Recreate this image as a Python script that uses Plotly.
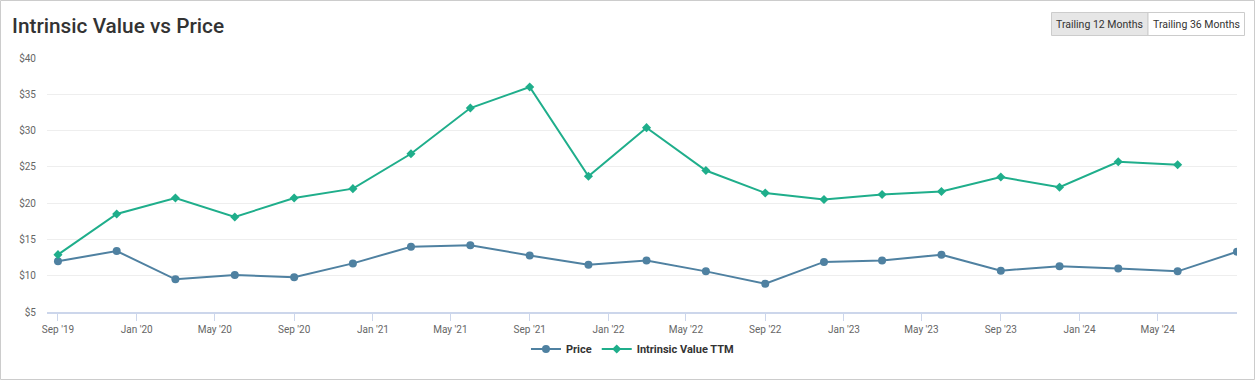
import plotly.graph_objects as go

dates = ["2019-09-01", "2019-12-01", "2020-03-01", "2020-06-01", "2020-09-01", "2020-12-01",
         "2021-03-01", "2021-06-01", "2021-09-01", "2021-12-01", "2022-03-01", "2022-06-01",
         "2022-09-01", "2022-12-01", "2023-03-01", "2023-06-01", "2023-09-01", "2023-12-01",
         "2024-03-01", "2024-06-01", "2024-09-01"]
price = [12.0, 13.4, 9.5, 10.1, 9.8, 11.7, 14.0, 14.2, 12.8, 11.5, 12.1, 10.6,
         8.9, 11.9, 12.1, 12.9, 10.7, 11.3, 11.0, 10.6, 13.3]
intrinsic = [12.9, 18.5, 20.7, 18.1, 20.7, 22.0, 26.8, 33.1, 36.0, 23.7, 30.4, 24.5,
             21.4, 20.5, 21.2, 21.6, 23.6, 22.2, 25.7, 25.3, None]

tick_dates = ["2019-09-01", "2020-01-01", "2020-05-01", "2020-09-01", "2021-01-01", "2021-05-01",
              "2021-09-01", "2022-01-01", "2022-05-01", "2022-09-01", "2023-01-01", "2023-05-01",
              "2023-09-01", "2024-01-01", "2024-05-01"]
tick_labels = ["Sep '19", "Jan '20", "May '20", "Sep '20", "Jan '21", "May '21",
               "Sep '21", "Jan '22", "May '22", "Sep '22", "Jan '23", "May '23",
               "Sep '23", "Jan '24", "May '24"]
y_ticks = [5, 10, 15, 20, 25, 30, 35, 40]
y_labels = ["$" + str(v) for v in y_ticks]

W, H = 1258, 382
ML, MR, MT, MB = 47, 21, 58, 70
PW, PH = W - ML - MR, H - MT - MB

def px(x):
    return (x - ML) / PW

def py(y):
    return (H - MB - y) / PH

FONT = "Roboto, Arial, sans-serif"
BLUE = "#4f81a1"
GREEN = "#1fae8b"

fig = go.Figure()
fig.add_trace(go.Scatter(x=dates, y=price, name="Price", mode="lines+markers",
                         line=dict(color=BLUE, width=2),
                         marker=dict(symbol="circle", size=8, color=BLUE)))
fig.add_trace(go.Scatter(x=dates, y=intrinsic, name="Intrinsic Value TTM", mode="lines+markers",
                         line=dict(color=GREEN, width=2),
                         marker=dict(symbol="diamond", size=7, color=GREEN),
                         connectgaps=False))

shapes = [
    dict(type="rect", xref="paper", yref="paper", x0=px(0.5), x1=px(W - 3.5), y0=py(0.5), y1=py(H - 2.5),
         line=dict(color="#cccccc", width=1), fillcolor="rgba(0,0,0,0)", layer="below"),
    dict(type="rect", xref="paper", yref="paper", x0=px(1051.5), x1=px(1148), y0=py(12.5), y1=py(35.5),
         line=dict(color="#cccccc", width=1), fillcolor="#e6e6e6", layer="below"),
    dict(type="rect", xref="paper", yref="paper", x0=px(1148), x1=px(1244.5), y0=py(12.5), y1=py(35.5),
         line=dict(color="#cccccc", width=1), fillcolor="#ffffff", layer="below"),
]

annotations = [
    dict(text="Intrinsic Value vs Price", xref="paper", yref="paper", x=px(10), y=py(26),
         xanchor="left", yanchor="middle", showarrow=False,
         font=dict(family=FONT, size=20.8, color="#333333", weight=500)),
    dict(text="Trailing 12 Months", xref="paper", yref="paper", x=px(1099.5), y=py(24),
         xanchor="center", yanchor="middle", showarrow=False,
         font=dict(family=FONT, size=10.5, color="#333333")),
    dict(text="Trailing 36 Months", xref="paper", yref="paper", x=px(1196), y=py(24),
         xanchor="center", yanchor="middle", showarrow=False,
         font=dict(family=FONT, size=10.5, color="#333333")),
]

fig.update_layout(
    width=W, height=H,
    margin=dict(l=ML, r=MR, t=MT, b=MB, pad=0),
    paper_bgcolor="white", plot_bgcolor="white",
    font=dict(family=FONT, size=10, color="#666666"),
    showlegend=True,
    legend=dict(orientation="h", x=0.492, xanchor="center", y=py(349), yanchor="middle",
                font=dict(family=FONT, size=11, color="#333333", weight="bold"),
                itemwidth=30, tracegroupgap=0),
    shapes=shapes, annotations=annotations,
    hovermode="x",
)
fig.update_xaxes(type="date", range=["2019-08-15", "2024-09-01"],
                 tickvals=tick_dates, ticktext=tick_labels,
                 showgrid=False, showline=True, linecolor="#ccd6eb", linewidth=2,
                 ticks="outside", ticklen=7, tickcolor="#ccd6eb", tickwidth=1,
                 tickfont=dict(family=FONT, size=10, color="#666666"), zeroline=False)
fig.update_yaxes(range=[5, 40], tickvals=y_ticks, ticktext=y_labels,
                 showgrid=True, gridcolor="#eeeeee", gridwidth=1, zeroline=False,
                 showline=False, ticks="", ticklabelstandoff=10,
                 tickfont=dict(family=FONT, size=10, color="#666666"))

fig.write_html("out.html", config={"displayModeBar": False},
               post_script="document.body.style.margin='0';document.body.style.padding='0';")
